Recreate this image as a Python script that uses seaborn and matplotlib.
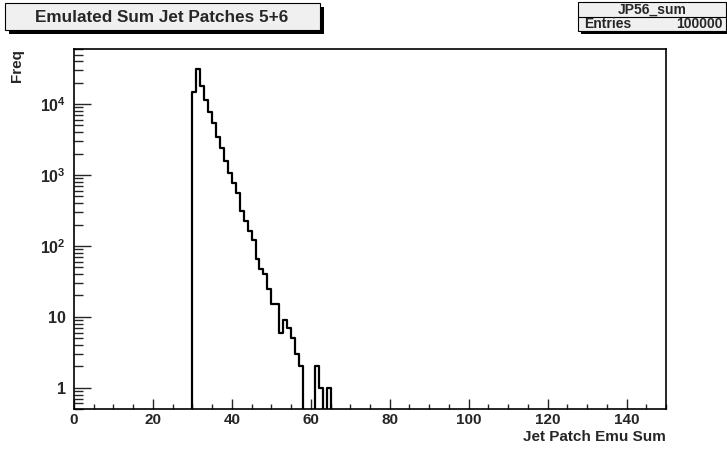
"""
Emulated jet patch sum histogram (ROOT style) redrawn with seaborn
"""

import numpy as np
import pandas as pd
import seaborn as sns
import matplotlib.pyplot as plt
from matplotlib.patches import Rectangle
from matplotlib.ticker import MultipleLocator, FixedLocator, FixedFormatter, LogLocator, NullFormatter

# bin lower edges (width 1) and counts
bin_low = list(range(30, 65))
freq = [15000, 31600, 17800, 11600, 7800, 5350, 3450, 2380, 1560, 1080,
        765, 550, 310, 227, 164, 121, 65, 48, 40, 25,
        15, 15, 6, 9, 7, 5, 3, 2, 0, 0,
        0, 2, 1, 0, 1]
x_edges = list(range(0, 151))
x_ticks = [0, 20, 40, 60, 80, 100, 120, 140]
y_ticks = [1, 10, 100, 1000, 10000]
y_tick_labels = ["1", "10", r"$\mathbf{10^{2}}$", r"$\mathbf{10^{3}}$", r"$\mathbf{10^{4}}$"]
hist_name = "JP56_sum"
n_entries = 100000
title = "Emulated Sum Jet Patches 5+6"

W, H = 727, 454


def px(x, y):
    """pixel position (from top left) -> figure fraction"""
    return x / W, 1 - y / H


def draw_box(fig, x0, y0, x1, y1, shadow=4):
    # ROOT style pave with dark shadow
    fx, fy = px(x0 + shadow, y1 + shadow)
    fig.patches.append(Rectangle((fx, fy), (x1 - x0) / W, (y1 - y0) / H,
                                 transform=fig.transFigure, facecolor="black",
                                 edgecolor="black", lw=0, zorder=1))
    fx, fy = px(x0, y1)
    fig.patches.append(Rectangle((fx, fy), (x1 - x0) / W, (y1 - y0) / H,
                                 transform=fig.transFigure, facecolor="#f0f0f0",
                                 edgecolor="black", lw=0.8, zorder=2))


def data_vis(df):
    sns.set_style("ticks")
    plt.rcParams["font.family"] = ["Liberation Sans", "DejaVu Sans"]
    plt.rcParams["font.weight"] = "bold"
    plt.rcParams["mathtext.fontset"] = "custom"
    plt.rcParams["mathtext.rm"] = "Liberation Sans:bold"
    plt.rcParams["mathtext.bf"] = "Liberation Sans:bold"

    fig = plt.figure(figsize=(W / 100, H / 100), dpi=100)
    l, t = px(74, 49)
    r, b = px(666, 409)
    ax = fig.add_axes([l, b, r - l, t - b])

    sns.histplot(data=df, x="center", weights="freq", bins=x_edges,
                 element="step", fill=False, color="black", linewidth=1.6, ax=ax)
    ax.set_yscale("log")
    ax.set_xlim(0, 150)
    ax.set_ylim(0.5, 6.0e4)

    for s in ax.spines.values():
        s.set_linewidth(1.2)
        s.set_color("black")

    ax.xaxis.set_major_locator(FixedLocator(x_ticks))
    ax.xaxis.set_minor_locator(MultipleLocator(5))
    ax.yaxis.set_major_locator(FixedLocator(y_ticks))
    ax.yaxis.set_major_formatter(FixedFormatter(y_tick_labels))
    ax.yaxis.set_minor_locator(LogLocator(base=10, subs=np.arange(2, 10)))
    ax.yaxis.set_minor_formatter(NullFormatter())

    ax.tick_params(axis="x", which="major", direction="in", length=7.5, width=1.0,
                   labelsize=11, pad=3)
    ax.tick_params(axis="x", which="minor", direction="in", length=3.8, width=1.0)
    ax.tick_params(axis="y", which="major", direction="in", length=12.5, width=1.0,
                   labelsize=11.5, pad=6)
    ax.tick_params(axis="y", which="minor", direction="in", length=6.3, width=1.0)
    for lab in ax.get_xticklabels() + ax.get_yticklabels():
        lab.set_fontweight("bold")

    ax.set_xlabel("")
    ax.set_ylabel("")
    fig.text(*px(666, 437), "Jet Patch Emu Sum", ha="right", va="center",
             fontsize=11, fontweight="bold")
    fig.text(*px(17, 49), "Freq", ha="center", va="top", rotation=90,
             fontsize=11, fontweight="bold")

    # title pave
    draw_box(fig, 5, 3, 320, 30)
    fig.text(*px(162, 17), title, ha="center", va="center",
             fontsize=12.3, fontweight="bold", zorder=3)

    # stats pave
    draw_box(fig, 578, 2, 726, 31, shadow=3)
    fl, ft = px(578, 17)
    fig.lines.append(plt.Line2D([fl, 726 / W], [ft, ft], transform=fig.transFigure,
                                color="black", lw=0.8, zorder=3))
    fig.text(*px(652, 9.5), hist_name, ha="center", va="center",
             fontsize=10, fontweight="bold", zorder=3)
    fig.text(*px(584, 24.5), "Entries", ha="left", va="center",
             fontsize=10, fontweight="bold", zorder=3)
    fig.text(*px(723, 24.5), str(n_entries), ha="right", va="center",
             fontsize=10, fontweight="bold", zorder=3)

    fig.savefig("out.png", dpi=100)


if __name__ == "__main__":
    counts = dict(zip(bin_low, freq))
    centers = [e + 0.5 for e in x_edges[:-1]]
    df = pd.DataFrame({"center": centers,
                       "freq": [counts.get(e, 0) for e in x_edges[:-1]]})
    data_vis(df)
